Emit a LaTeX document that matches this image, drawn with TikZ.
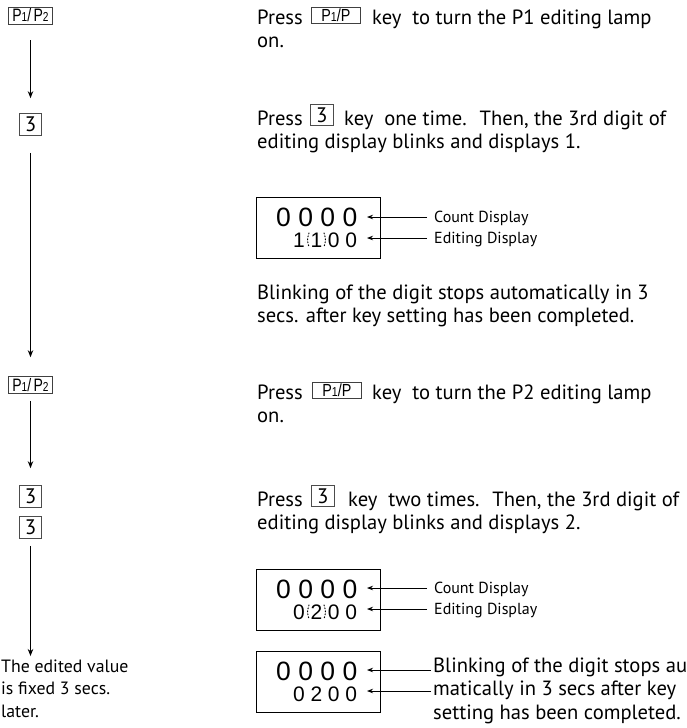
\documentclass[tikz,border=0pt]{standalone}
\usepackage{fontspec}
\usepackage{graphicx}
\setmainfont{PT Sans}
\newfontfamily\keyfont{Liberation Sans}
\usetikzlibrary{arrows.meta}
\newcommand\PPtwo{\scalebox{0.78}[1]{P{\fontsize{13}{13}\selectfont 1}/\,P{\fontsize{13}{13}\selectfont 2}}}
\newcommand\PPone{\scalebox{0.82}[1]{P{\fontsize{13}{13}\selectfont 1}/P}}
\begin{document}
\begin{tikzpicture}[x=1pt,y=-1pt,
  keybox/.style={draw=black!75, line width=0.7pt, inner sep=0pt, minimum height=17pt, minimum width=44pt, font=\keyfont\fontsize{18}{18}\selectfont},
  inkey/.style={draw=black!75, line width=0.7pt, inner sep=0pt, anchor=south west, minimum height=16pt, minimum width=49pt, font=\keyfont\fontsize{17.5}{17.5}\selectfont},
  numbox/.style={draw=black!70, line width=0.7pt, inner sep=0pt, minimum size=22pt, font=\fontsize{21}{21}\selectfont},
  innum/.style={draw=black!70, line width=0.7pt, inner sep=0pt, anchor=south west, minimum width=23pt, minimum height=21pt, font=\fontsize{21}{21}\selectfont},
  txt/.style={anchor=base west, inner sep=0pt, font=\fontsize{20.6}{24}\selectfont},
  ltxt/.style={anchor=base west, inner sep=0pt, font=\fontsize{17.8}{22}\selectfont},
  lbl/.style={anchor=base west, inner sep=0pt, font=\fontsize{16}{16}\selectfont},
  flow/.style={line width=0.8pt, -{Stealth[length=7pt,width=5.5pt]}},
  point/.style={line width=0.8pt, -{Stealth[length=6pt,width=4.5pt]}},
  disp/.style={draw, line width=0.9pt, minimum width=124pt, minimum height=61pt, inner sep=0pt},
  bigdig/.style={anchor=base west, inner sep=0pt, font=\keyfont\fontsize{26.5}{26.5}\selectfont},
  smalldig/.style={anchor=base west, inner sep=0pt, font=\keyfont\fontsize{21}{21}\selectfont},
  blink/.style={line width=1pt, dash pattern=on 1pt off 2pt, line cap=round}
]
\useasboundingbox (0,0) rectangle (686,728);

% ---- left column ----
\node[keybox] (kA) at (30.5,15.5) {\PPtwo};
\node[numbox] (kB) at (30.5,124.5) {3};
\node[keybox] (kC) at (30.5,385) {\PPtwo};
\node[numbox] (kD) at (30.5,496.5) {3};
\node[numbox] (kE) at (30.5,527.5) {3};
\coordinate (fin) at (30.5,656);
\draw[flow, shorten <=16pt, shorten >=15pt] (kA) -- (kB);
\draw[flow, shorten <=17pt, shorten >=19pt] (kB) -- (kC);
\draw[flow, shorten <=7pt, shorten >=17pt] (kC) -- (kD);
\draw[flow, shorten <=7pt] (kE) -- (fin);
\node[ltxt] (fx1) at (1,672) {The edited value};
\node[ltxt] (fx2) at (1,694.5) {is fixed 3 secs.};
\node[ltxt] (fx3) at (1,717) {later.};

% ---- step 1 ----
\node[txt] (t1p) at (257,24) {Press};
\node[inkey] (t1k) at (311,24) {\PPone\hspace{4pt}};
\node[txt] (t1r) at (372,24) {key~ to turn the P1 editing lamp};
\node[txt] (t1s) at (257,47) {on.};

% ---- step 2 ----
\node[txt] (t2p) at (257,125) {Press};
\node[innum] (t2k) at (310,126) {3};
\node[txt] (t2r) at (344,125) {key~ one time.~ Then, the 3rd digit of};
\node[txt] (t2s) at (257,148) {editing display blinks and displays 1.};

% ---- display 1 ----
\node[disp] (d1) at (318,227.5) {};
\node[bigdig] (d1c) at (276,226) {0\hspace{7.4pt}0\hspace{7.4pt}0\hspace{7.4pt}0};
\node[smalldig] (d1e) at (293,247) {1\hspace{5.7pt}1\hspace{5.7pt}0\hspace{5.7pt}0};
\draw[blink] (309,233) .. controls (307,240) .. (309,247);
\draw[blink] (324,233) .. controls (326,240) .. (324,247);
\node[lbl] (d1cl) at (434,222) {Count Display};
\node[lbl] (d1el) at (434,243) {Editing Display};
\coordinate (d1ct) at (367,217);
\coordinate (d1et) at (367,238);
\draw[point, shorten <=7pt] (d1cl.west |- d1ct) -- (d1ct);
\draw[point, shorten <=7pt] (d1el.west |- d1et) -- (d1et);

% ---- step 3 text ----
\node[txt] (t3a) at (257,299) {Blinking of the digit stops automatically in 3};
\node[txt] (t3b) at (257,322) {secs. after key setting has been completed.};

% ---- step 4 ----
\node[txt] (t4p) at (257,399) {Press};
\node[inkey] (t4k) at (312,399) {\PPone\hspace{4pt}};
\node[txt] (t4r) at (372,399) {key~ to turn the P2 editing lamp};
\node[txt] (t4s) at (257,422.5) {on.};

% ---- step 5 ----
\node[txt] (t5p) at (257,506) {Press};
\node[innum] (t5k) at (311,507) {3};
\node[txt] (t5r) at (348,506) {key~ two times.~ Then, the 3rd digit of};
\node[txt] (t5s) at (257,529) {editing display blinks and displays 2.};

% ---- display 2 ----
\node[disp] (d2) at (318,599.5) {};
\node[bigdig] (d2c) at (276,598) {0\hspace{7.4pt}0\hspace{7.4pt}0\hspace{7.4pt}0};
\node[smalldig] (d2e) at (293,619) {0\hspace{5.7pt}2\hspace{5.7pt}0\hspace{5.7pt}0};
\draw[blink] (309,605) .. controls (307,612) .. (309,619);
\draw[blink] (324,605) .. controls (326,612) .. (324,619);
\node[lbl] (d2cl) at (434,593) {Count Display};
\node[lbl] (d2el) at (434,614) {Editing Display};
\coordinate (d2ct) at (367,588);
\coordinate (d2et) at (367,609);
\draw[point, shorten <=7pt] (d2cl.west |- d2ct) -- (d2ct);
\draw[point, shorten <=7pt] (d2el.west |- d2et) -- (d2et);

% ---- display 3 ----
\node[disp] (d3) at (318,681.5) {};
\node[bigdig] (d3c) at (276,680) {0\hspace{7.4pt}0\hspace{7.4pt}0\hspace{7.4pt}0};
\node[smalldig] (d3e) at (293,701) {0\hspace{5.7pt}2\hspace{5.7pt}0\hspace{5.7pt}0};
\node[txt] (b1) at (433,672) {Blinking of the digit stops au};
\node[txt] (b2) at (433,695.5) {matically in 3 secs after key};
\node[txt] (b3) at (433,719) {setting has been completed.};
\coordinate (d3ct) at (367,670);
\coordinate (d3et) at (367,691);
\draw[point, shorten <=2pt] (b1.west |- d3ct) -- (d3ct);
\draw[point, shorten <=2pt] (b2.west |- d3et) -- (d3et);
\end{tikzpicture}
\end{document}
